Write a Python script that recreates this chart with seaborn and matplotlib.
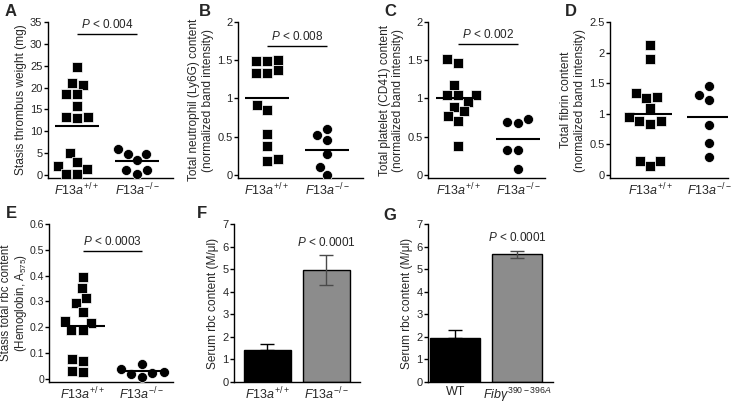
import numpy as np
import matplotlib
matplotlib.use("Agg")
import matplotlib.pyplot as plt
import seaborn as sns
import pandas as pd

# ---- data ----
groups = ["F13a+/+", "F13a-/-"]

# A: stasis thrombus weight (mg)
a_wt = [24.7, 20.5, 21.0, 18.5, 18.5, 15.7, 13.2, 13.0, 13.2, 5.0, 3.0, 2.0, 1.3, 0.2, 0.2]
a_ko = [5.9, 4.8, 4.8, 3.4, 1.1, 1.1, 0.2]
a_mean = [11.2, 3.2]

# B: neutrophil (Ly6G)
b_wt = [1.49, 1.51, 1.49, 1.37, 1.34, 1.34, 0.91, 0.85, 0.53, 0.38, 0.21, 0.18]
b_ko = [0.60, 0.52, 0.46, 0.27, 0.11, 0.0]
b_mean = [1.0, 0.32]

# C: platelet (CD41)
c_wt = [1.52, 1.47, 1.18, 1.05, 1.05, 1.05, 0.96, 0.89, 0.83, 0.77, 0.71, 0.38]
c_ko = [0.73, 0.68, 0.69, 0.33, 0.32, 0.08]
c_mean = [1.0, 0.47]

# D: fibrin
d_wt = [2.13, 1.89, 1.34, 1.26, 1.27, 1.10, 0.95, 0.84, 0.88, 0.88, 0.22, 0.14, 0.22]
d_ko = [1.46, 1.31, 1.22, 0.81, 0.52, 0.29]
d_mean = [1.0, 0.94]

# E: stasis rbc content
e_wt = [0.396, 0.351, 0.313, 0.294, 0.26, 0.223, 0.216, 0.19, 0.19, 0.079, 0.07, 0.032, 0.028]
e_ko = [0.040, 0.025, 0.057, 0.020, 0.008, 0.022]
e_mean = [0.205, 0.030]

# F / G: serum rbc content (mean, error)
f_labels = groups
f_mean = [1.44, 4.97]
f_err = [0.26, 0.65]
g_labels = ["WT", "Fib390-396A"]
g_mean = [1.97, 5.65]
g_err = [0.35, 0.15]

p_texts = {"A": "0.004", "B": "0.008", "C": "0.002", "E": "0.0003", "F": "0.0001", "G": "0.0001"}

sns.set_theme(style="ticks")
plt.rcParams["font.family"] = ["Liberation Sans", "DejaVu Sans"]
plt.rcParams["mathtext.fontset"] = "custom"
plt.rcParams["mathtext.rm"] = "Liberation Sans"
plt.rcParams["mathtext.it"] = "Liberation Sans:italic"
plt.rcParams["mathtext.bf"] = "Liberation Sans:bold"

xt_f13 = [r"$\mathit{F13a}^{\mathit{+/+}}$", r"$\mathit{F13a}^{\mathit{-/-}}$"]
xt_g = ["WT", r"$\mathit{Fib\gamma}^{\mathit{390-396A}}$"]

fig = plt.figure(figsize=(7.44, 4.03), dpi=100)

top_b, top_h = 0.5583, 0.387
bot_b, bot_h = 0.0521, 0.392


def style_ax(ax, ylabel, yticks, yticklabels, xlim, ylim):
    sns.despine(ax=ax)
    ax.set_xlim(*xlim)
    ax.set_ylim(*ylim)
    ax.set_yticks(yticks)
    ax.set_yticklabels(yticklabels, fontsize=8)
    ax.set_ylabel(ylabel, fontsize=8.6, labelpad=2, linespacing=1.2)
    ax.set_xlabel("")
    for s in ["left", "bottom"]:
        ax.spines[s].set_linewidth(1.0)
        ax.spines[s].set_color("black")
    ax.tick_params(axis="y", length=3, width=1, pad=1, color="black")
    ax.tick_params(axis="x", length=0, pad=3)


def dot_panel(rect, wt, ko, means, ylabel, yticks, ytl, xlim, top, pval=None, pbar=None):
    ax = fig.add_axes(rect)
    sns.swarmplot(x=[groups[0]] * len(wt), y=wt, order=groups, marker="s", color="black",
                  size=7.2, ax=ax, linewidth=0.5, edgecolor="white")
    sns.swarmplot(x=[groups[1]] * len(ko), y=ko, order=groups, marker="o", color="black",
                  size=7.2, ax=ax, linewidth=0.5, edgecolor="white")
    for i, m in enumerate(means):
        ax.hlines(m, i - 0.37, i + 0.37, color="black", lw=1.5, zorder=5)
    if pval is not None:
        ax.hlines(pbar, 0, 1, color="black", lw=1.0)
        ax.text(0.5, pbar + top * 0.02, r"$\mathit{P}$ < " + pval, ha="center", va="bottom", fontsize=8.5)
    style_ax(ax, ylabel, yticks, ytl, xlim, (-top * 0.02, top))
    ax.set_xticks([0, 1])
    ax.set_xticklabels(xt_f13, fontsize=9)
    return ax


def bar_panel(rect, labels, means, errs, xtl, ylabel, pval, ptext_y, xlim):
    ax = fig.add_axes(rect)
    df = pd.DataFrame({"g": labels, "v": means})
    sns.barplot(data=df, x="g", y="v", order=labels, hue="g", palette=["black", "#8c8c8c"],
                legend=False, width=0.8, edgecolor="black", linewidth=1.0, ax=ax)
    ax.errorbar([0], [means[0]], yerr=[[0], [errs[0]]], fmt="none", ecolor="black",
                elinewidth=1.0, capsize=5, capthick=1.0)
    ax.errorbar([1], [means[1]], yerr=[errs[1]], fmt="none", ecolor="#4a4a4a",
                elinewidth=1.0, capsize=5, capthick=1.0)
    ax.text(1, ptext_y, r"$\mathit{P}$ < " + pval, ha="center", va="center", fontsize=8.5)
    style_ax(ax, ylabel, range(0, 8), [str(i) for i in range(0, 8)], xlim, (0, 7))
    ax.set_xticks([0, 1])
    ax.set_xticklabels(xtl, fontsize=9)
    return ax


dot_panel([0.0645, top_b, 0.168, top_h], a_wt, a_ko, a_mean, "Stasis thrombus weight (mg)",
          range(0, 40, 5), [str(v) for v in range(0, 40, 5)], (-0.48, 1.6), 35,
          p_texts["A"], 32.2)

t2 = [0, 0.5, 1, 1.5, 2]
t2l = ["0", "0.5", "1", "1.5", "2"]
dot_panel([0.3199, top_b, 0.168, top_h], b_wt, b_ko, b_mean,
          "Total neutrophil (Ly6G) content\n(normalized band intensity)",
          t2, t2l, (-0.48, 1.6), 2, p_texts["B"], 1.69)

dot_panel([0.5753, top_b, 0.157, top_h], c_wt, c_ko, c_mean,
          "Total platelet (CD41) content\n(normalized band intensity)",
          t2, t2l, (-0.5, 1.45), 2, p_texts["C"], 1.71)

dot_panel([0.8199, top_b, 0.1586, top_h], d_wt, d_ko, d_mean,
          "Total fibrin content\n(normalized band intensity)",
          [0, 0.5, 1, 1.5, 2, 2.5], ["0", "0.5", "1", "1.5", "2", "2.5"], (-0.68, 1.32), 2.5)

ax_e = dot_panel([0.0659, bot_b, 0.1667, bot_h], e_wt, e_ko, e_mean,
                 "Stasis total rbc content\n(Hemoglobin, A$_{575}$)",
                 [0, 0.1, 0.2, 0.3, 0.4, 0.5, 0.6], ["0", "0.1", "0.2", "0.3", "0.4", "0.5", "0.6"],
                 (-0.57, 1.53), 0.6, p_texts["E"], 0.495)
ax_e.yaxis.label.set_fontsize(8.3)
ax_e.yaxis.label.set_linespacing(1.1)
ax_e.tick_params(axis="y", labelsize=7.6, pad=0.5)
ax_e.yaxis.set_label_coords(-0.162, 0.5)

bar_panel([0.3145, bot_b, 0.169, bot_h], f_labels, f_mean, f_err, xt_f13,
          "Serum rbc content (M/μl)", p_texts["F"], 6.2, (-0.565, 1.565))

bar_panel([0.5753, bot_b, 0.168, bot_h], g_labels, g_mean, g_err, xt_g,
          "Serum rbc content (M/μl)", p_texts["G"], 6.42, (-0.44, 1.58))

# panel letters
letters = [("A", 5, 12), ("B", 199, 12), ("C", 384, 12), ("D", 565, 12),
           ("E", 6, 214), ("F", 197, 214), ("G", 383, 216)]
for lab, px, py in letters:
    fig.text(px / 744, 1 - py / 403, lab, fontsize=12, fontweight="bold", va="center", ha="left")

fig.savefig("out.png", dpi=100)
